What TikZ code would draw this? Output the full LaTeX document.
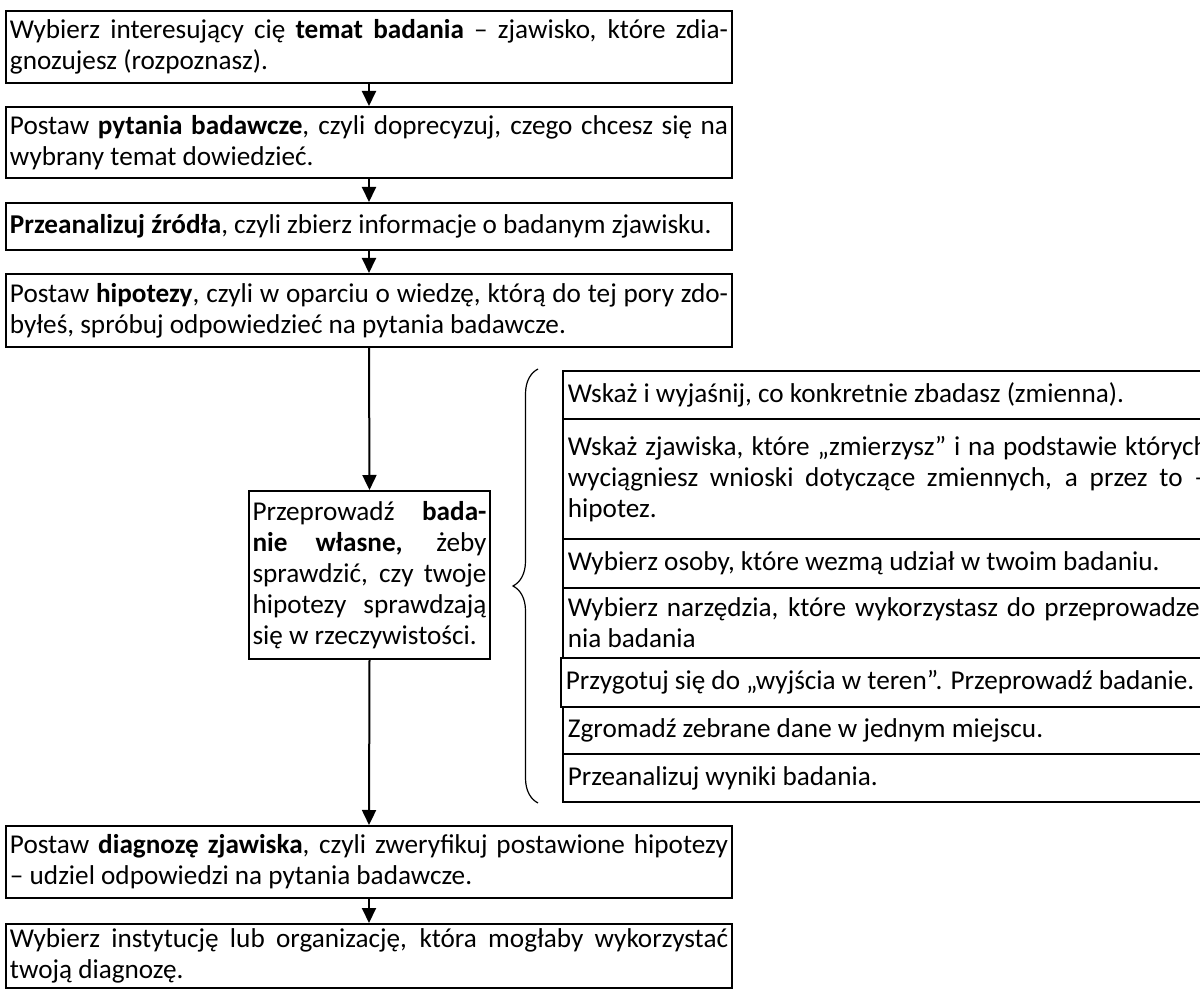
\documentclass[tikz,border=0pt]{standalone}
\usepackage{fontspec}
\setmainfont{Carlito}
\usetikzlibrary{arrows.meta,decorations.pathreplacing}
\setlength{\parindent}{0pt}
\begin{document}
\begin{tikzpicture}[x=0.5pt,y=-0.5pt,
  font=\fontsize{13.6pt}{15.5pt}\selectfont,
  mainbox/.style={draw, line width=1pt, anchor=north west, inner xsep=2pt, inner ysep=1pt,
     minimum width=363pt, text width=359pt, align=justify},
  midbox/.style={draw, line width=1pt, anchor=north west, inner xsep=1.75pt, inner ysep=1pt,
     minimum width=120.5pt, text width=117pt, align=justify},
  sidebox/.style={draw, line width=0.9pt, anchor=north west, inner xsep=2.5pt, inner ysep=1pt,
     minimum width=325pt, text width=320pt, align=justify},
  conn/.style={line width=1pt, -{Triangle[length=7.5pt,width=7pt]}},
  bracestyle/.style={line width=0.6pt, decorate, decoration={brace, amplitude=12.5pt}}
]
\useasboundingbox (0,0) rectangle (1200,989);
\clip (0,0) rectangle (1200,989);

\node[mainbox, minimum height=36pt] (b1) at (5,10)
  {Wybierz interesujący cię \textbf{temat badania} – zjawisko, które zdia-\linebreak gnozujesz (rozpoznasz).};
\node[mainbox, minimum height=35.5pt] (b2) at (5,106)
  {Postaw \textbf{pytania badawcze}, czyli doprecyzuj, czego chcesz się na\linebreak wybrany temat dowiedzieć.};
\node[mainbox, minimum height=23.5pt] (b3) at (5,202)
  {\textbf{Przeanalizuj źródła}, czyli zbierz informacje o badanym zjawisku.};
\node[mainbox, minimum height=36.5pt] (b4) at (5,273)
  {Postaw \textbf{hipotezy}, czyli w oparciu o wiedzę, którą do tej pory zdo-\linebreak byłeś, spróbuj odpowiedzieć na pytania badawcze.};
\node[midbox, minimum height=84pt] (b5) at (248,490)
  {Przeprowadź \textbf{bada-}\linebreak \textbf{nie własne,} żeby\linebreak sprawdzić, czy twoje\linebreak hipotezy sprawdzają\linebreak się w rzeczywistości.};
\node[mainbox, minimum height=36pt] (b6) at (5,825)
  {Postaw \textbf{diagnozę zjawiska}, czyli zweryfikuj postawione hipotezy\linebreak – udziel odpowiedzi na pytania badawcze.};
\node[mainbox, minimum height=32pt] (b7) at (5,923)
  {Wybierz instytucję lub organizację, która mogłaby wykorzystać\linebreak twoją diagnozę.};

\node[sidebox, minimum height=24pt] (ra) at (562,370)
  {Wskaż i wyjaśnij, co konkretnie zbadasz (zmienna).};
\node[sidebox, minimum height=60pt] (rb) at (562,418)
  {Wskaż zjawiska, które „zmierzysz” i na podstawie których\linebreak wyciągniesz wnioski dotyczące zmiennych, a~przez to –\linebreak hipotez.\par\vspace{9pt}};
\node[sidebox, minimum height=24.5pt] (rc) at (562,538)
  {Wybierz osoby, które wezmą udział w twoim badaniu.};
\node[sidebox, minimum height=35pt] (rd) at (562,587)
  {Wybierz narzędzia, które wykorzystasz do przeprowadze-\linebreak nia badania};
\node[sidebox, minimum height=24.5pt] (re) at (560,657)
  {Przygotuj się do „wyjścia w teren”. Przeprowadź badanie.};
\node[sidebox, minimum height=23.5pt] (rf) at (562,706)
  {Zgromadź zebrane dane w jednym miejscu.};
\node[sidebox, minimum height=24pt] (rg) at (562,753)
  {Przeanalizuj wyniki badania.};

\coordinate (brbot) at (538,803);
\coordinate (brtop) at (538,369);
\draw[bracestyle] (brbot) -- (brtop);

\draw[conn] (b1.south) -- (b2.north);
\draw[conn] (b2.south) -- (b3.north);
\draw[conn] (b3.south) -- (b4.north);
\draw[conn] (b4.south) -- (b5.north);
\draw[conn] (b5.south) -- (b6.north);
\draw[conn] (b6.south) -- (b7.north);
\end{tikzpicture}
\end{document}
